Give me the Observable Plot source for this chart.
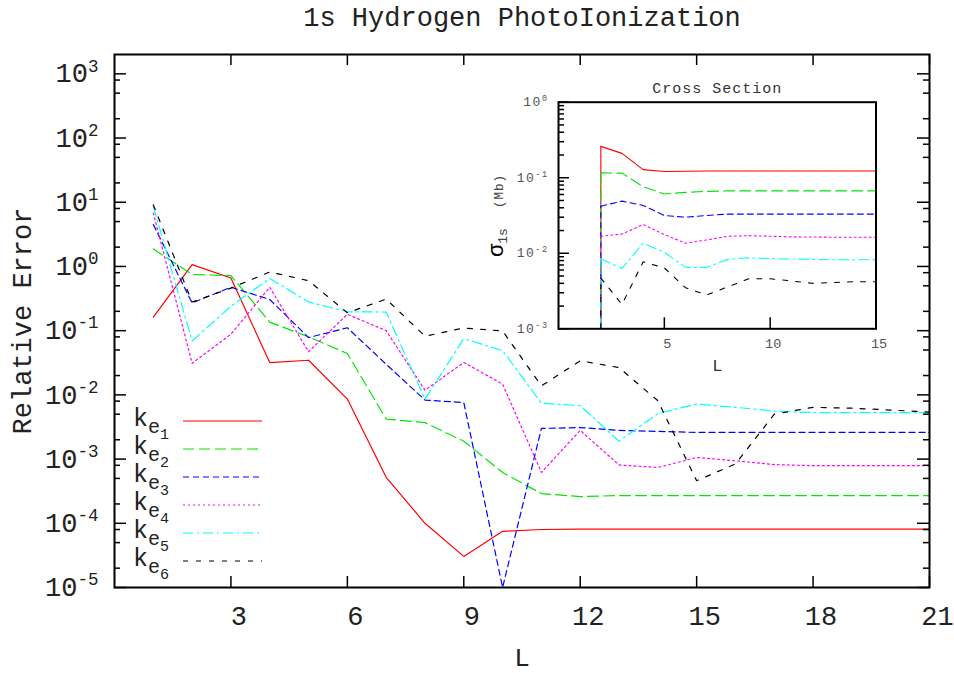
<!DOCTYPE html>
<html><head><meta charset="utf-8">
<script src="https://cdn.jsdelivr.net/npm/d3@7"></script>
<script src="https://cdn.jsdelivr.net/npm/@observablehq/plot@0.6"></script>
<style>
html,body{margin:0;padding:0;background:#fff;}
#wrap{position:relative;width:954px;height:673px;}
#wrap svg{position:absolute;left:0;top:0;}
</style></head><body><div id="wrap"></div>
<script>
// ---------- data ----------
const L = [1,2,3,4,5,6,7,8,9,10,11,12,13,14,15,16,17,18,19,20,21];
const seriesLabels = ["k_e_1","k_e_2","k_e_3","k_e_4","k_e_5","k_e_6"];
const ke1 = [0.163,1.07,0.66,0.0318,0.0346,0.0086,5.2e-4,1.0e-4,3.05e-5,7.5e-5,8.0e-5,8.1e-5,8.1e-5,8.1e-5,8.1e-5,8.1e-5,8.1e-5,8.1e-5,8.1e-5,8.1e-5,8.1e-5];
const ke2 = [1.87,0.75,0.72,0.136,0.08,0.044,0.0042,0.0037,0.0019,6.2e-4,2.9e-4,2.6e-4,2.7e-4,2.7e-4,2.7e-4,2.7e-4,2.7e-4,2.7e-4,2.7e-4,2.7e-4,2.7e-4];
const ke3 = [4.5,0.27,0.475,0.306,0.078,0.111,0.030,0.0083,0.0076,1.0e-5,0.0030,0.0031,0.0028,0.0027,0.0026,0.0026,0.0026,0.0026,0.0026,0.0026,0.0026];
const ke4 = [6.8,0.031,0.088,0.475,0.047,0.18,0.10,0.0118,0.032,0.0147,6.2e-4,0.0028,8.1e-4,7.4e-4,0.00106,9.4e-4,8.2e-4,7.9e-4,7.9e-4,7.9e-4,7.9e-4];
const ke5 = [8.6,0.069,0.24,0.65,0.28,0.197,0.195,0.0086,0.075,0.049,0.0074,0.0068,0.0019,0.0051,0.0072,0.0064,0.0056,0.0053,0.0053,0.0053,0.0053];
const ke6 = [9.1,0.28,0.46,0.82,0.60,0.19,0.31,0.082,0.11,0.099,0.0138,0.034,0.0266,0.0081,4.6e-4,8.4e-4,0.0050,0.0064,0.0062,0.0058,0.0054];

const insetL = [2,3,4,5,6,7,8,9,10,11,12,13,14,15];
const sig1 = [0.26,0.21,0.128,0.121,0.122,0.123,0.123,0.123,0.123,0.123,0.123,0.123,0.123,0.123];
const sig2 = [0.116,0.115,0.076,0.061,0.064,0.066,0.067,0.067,0.067,0.067,0.067,0.067,0.067,0.067];
const sig3 = [0.042,0.049,0.043,0.0316,0.030,0.0316,0.033,0.033,0.033,0.033,0.033,0.033,0.033,0.033];
const sig4 = [0.0168,0.018,0.024,0.0177,0.0136,0.015,0.0168,0.0171,0.0168,0.0165,0.0164,0.0163,0.0163,0.0163];
const sig5 = [0.0084,0.0063,0.0136,0.0103,0.0065,0.0065,0.0083,0.0087,0.0085,0.0084,0.0083,0.0082,0.0082,0.0082];
const sig6 = [0.0047,0.0021,0.0077,0.0064,0.0035,0.0028,0.0036,0.0046,0.0046,0.0043,0.0040,0.0041,0.0042,0.0042];

const xTicks = [3,6,9,12,15,18,21];
const yTicks = [1e-5,1e-4,1e-3,1e-2,1e-1,1,10,100,1000];
const yMinorMult = [2,5,8];
const insetXTicks = [5,10,15];
const insetYTicks = [1e-3,1e-2,1e-1,1];
const insetMinorMult = [2,3,4,5,6,7,8,9];

const title = "1s Hydrogen PhotoIonization";
const yLabel = "Relative Error";
const xLabel = "L";
const insetTitle = "Cross Section";
const insetYLabel = "σ_1s_(Mb)";
const insetXLabel = "L";

// ---------- styles ----------
const colors = ["#ff0000","#00e600","#0000ff","#ff00ff","#00ffff","#000000"];
const dashes = ["none","11,5","6,4","2,3","10,4,2,4","5,8"];
const FONT = '"Liberation Mono", "DejaVu Sans Mono", monospace';
const INK = "#222";
const W = 954, H = 673;

// ---------- main plot ----------
const M = {l:114, r:25, t:54, b:86};
const iw = W - M.l - M.r, ih = H - M.t - M.b;
const mainSeries = [ke1,ke2,ke3,ke4,ke5,ke6];
const yMinor = yTicks.slice(0,-1).flatMap(d => yMinorMult.map(m => d*m));
const supFmt = d => "10^" + Math.round(Math.log10(d));

const main = Plot.plot({
  width: W, height: H,
  marginLeft: M.l, marginRight: M.r, marginTop: M.t, marginBottom: M.b,
  x: {domain: [0,21]},
  y: {type: "log", domain: [1e-5, 2e3]},
  style: {fontFamily: FONT, fontSize: "27px", color: "#000", background: "#fff", overflow: "visible"},
  marks: [
    ...mainSeries.map((vals,i) => Plot.line(L.map((l,j) => ({L:l, v:vals[j]})),
      {x:"L", y:"v", stroke: colors[i], strokeWidth: 1.2, strokeDasharray: dashes[i]})),
    Plot.tickY(yTicks, {y: d=>d, insetRight: iw-12, strokeWidth: 1.5}),
    Plot.tickY(yTicks, {y: d=>d, insetLeft: iw-12, strokeWidth: 1.5}),
    Plot.tickY(yMinor, {y: d=>d, insetRight: iw-6, strokeWidth: 1.5}),
    Plot.tickY(yMinor, {y: d=>d, insetLeft: iw-6, strokeWidth: 1.5}),
    Plot.tickX(xTicks, {x: d=>d, insetTop: ih-11, strokeWidth: 1.5}),
    Plot.tickX(xTicks, {x: d=>d, insetBottom: ih-11, strokeWidth: 1.5}),
    Plot.frame({strokeWidth: 2}),
    Plot.axisX({ticks: xTicks, tickSize: 0, tickPadding: 18, dx: 8, label: null, fontSize: 27, color: INK}),
    Plot.axisY({ticks: yTicks, tickSize: 0, tickPadding: 16, label: null, tickFormat: supFmt, fontSize: 27, color: INK}),
    Plot.text([title], {text: d=>d, frameAnchor: "top", lineAnchor: "middle", dy: -37, fontSize: 27, fill: INK}),
    Plot.text([yLabel], {text: d=>d, frameAnchor: "left", textAnchor: "middle", lineAnchor: "middle", rotate: -90, dx: -92, fontSize: 27, fill: INK}),
    Plot.text([xLabel], {text: d=>d, frameAnchor: "bottom", lineAnchor: "middle", dy: 70, fontSize: 26, fill: INK})
  ]
});

// ---------- inset plot ----------
const IM = {l:558, r:78.5, t:101.7, b:344.7};
const iiw = W - IM.l - IM.r, iih = H - IM.t - IM.b;
const insetSeries = [sig1,sig2,sig3,sig4,sig5,sig6];
const insetYDomain = [1e-3, 1];
const insetMinor = insetYTicks.slice(0,-1).flatMap(d => insetMinorMult.map(m => d*m));

const inset = Plot.plot({
  width: W, height: H,
  marginLeft: IM.l, marginRight: IM.r, marginTop: IM.t, marginBottom: IM.b,
  x: {domain: [0,15]},
  y: {type: "log", domain: insetYDomain},
  style: {fontFamily: FONT, fontSize: "13px", color: "#000", background: "transparent", overflow: "visible"},
  marks: [
    ...insetSeries.map((vals,i) => Plot.ruleX([{L: insetL[0], v: vals[0]}],
      {x:"L", y1: () => insetYDomain[0], y2:"v", stroke: colors[i], strokeWidth: 1.1, strokeDasharray: dashes[i]})),
    ...insetSeries.map((vals,i) => Plot.line(insetL.map((l,j) => ({L:l, v:vals[j]})),
      {x:"L", y:"v", stroke: colors[i], strokeWidth: 1.1, strokeDasharray: dashes[i]})),
    Plot.tickY(insetYTicks, {y: d=>d, insetRight: iiw-11, strokeWidth: 1.5}),
    Plot.tickY(insetMinor, {y: d=>d, insetRight: iiw-6, strokeWidth: 1.5}),
    Plot.tickX(insetXTicks, {x: d=>d, insetTop: iih-11, strokeWidth: 1.5}),
    Plot.frame({strokeWidth: 2}),
    Plot.axisX({ticks: insetXTicks, tickSize: 0, tickPadding: 10, dx: 3, label: null, fontSize: 13.5, color: "#555"}),
    Plot.axisY({ticks: insetYTicks, tickSize: 0, tickPadding: 10, label: null, tickFormat: supFmt, fontSize: 13, color: "#555"}),
    Plot.text([insetTitle], {text: d=>d, frameAnchor: "top", lineAnchor: "middle", dy: -14, fontSize: 15, fill: "#333"}),
    Plot.text([insetYLabel], {text: d=>d, frameAnchor: "left", textAnchor: "middle", lineAnchor: "middle", rotate: -90, dx: -63, fontSize: 22}),
    Plot.text([insetXLabel], {text: d=>d, frameAnchor: "bottom", lineAnchor: "middle", dy: 37, fontSize: 17, fill: "#333"})
  ]
});

// ---------- rich text: superscripts / subscripts ----------
function supify(svg, letterSpacing) {
  d3.select(svg).selectAll("text").each(function() {
    const m = /^(\d+)\^(-?\d+)$/.exec(this.textContent);
    if (!m) return;
    const t = d3.select(this);
    t.text(m[1]);
    if (letterSpacing) t.attr("letter-spacing", letterSpacing);
    t.append("tspan").attr("dy", "-0.62em").attr("font-size", "0.65em").text(m[2]);
  });
}
supify(main);
supify(inset, "1.5px");

d3.select(inset).selectAll("text").each(function() {
  if (this.textContent === insetTitle) d3.select(this).attr("letter-spacing", "1px");
  if (this.textContent !== insetYLabel) return;
  const [base, sub, unit] = insetYLabel.split("_");
  const t = d3.select(this);
  t.text(base).attr("fill", "#000");
  t.append("tspan").attr("font-size", 13).attr("dy", 4).attr("fill", "#444").text(sub);
  t.append("tspan").attr("font-size", 12.5).attr("dy", -4).attr("dx", 20).attr("fill", "#444").attr("letter-spacing", "1px").text(unit);
});

// ---------- legend ----------
const leg = d3.select(main).append("g").attr("font-family", FONT).attr("fill", INK).attr("text-anchor", "start");
seriesLabels.forEach((lab, i) => {
  const [k, e, n] = lab.split("_");
  const yb = 426 + 28*i;
  const t = leg.append("text").attr("x", 133).attr("y", yb).attr("font-size", 25).text(k);
  t.append("tspan").attr("font-size", 20).attr("dy", 7).text(e);
  t.append("tspan").attr("font-size", 15).attr("dy", 6).text(n);
  leg.append("line").attr("x1", 183).attr("x2", 262).attr("y1", yb - 5).attr("y2", yb - 5)
    .attr("stroke", colors[i]).attr("stroke-width", 1.2).attr("stroke-dasharray", dashes[i]);
});

document.getElementById("wrap").append(main, inset);
</script></body></html>
